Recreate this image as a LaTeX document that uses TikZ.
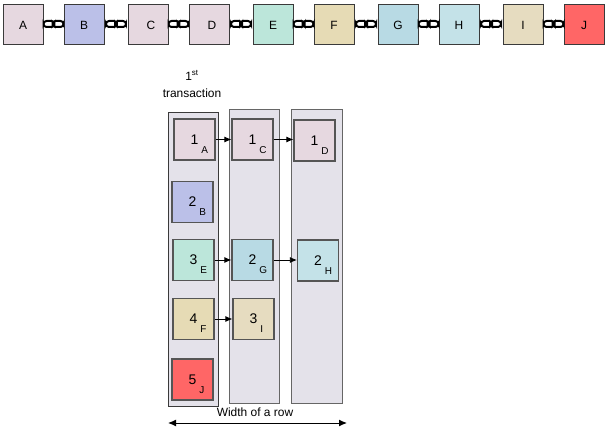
\documentclass[tikz,border=0pt]{standalone}
\usepackage{fontspec}
\setmainfont{Liberation Sans}
\usetikzlibrary{calc,positioning,arrows.meta}
\definecolor{chpink} {HTML}{E6D8E0}
\definecolor{chblue} {HTML}{BBC0E8}
\definecolor{chmint} {HTML}{BCE6DA}
\definecolor{chsand} {HTML}{E6DBB5}
\definecolor{chsky}  {HTML}{B8DAE4}
\definecolor{chice}  {HTML}{C4E2E8}
\definecolor{chwheat}{HTML}{E6DCC0}
\definecolor{chred}  {HTML}{FF6666}
\definecolor{chcol}  {HTML}{E4E2EA}
\definecolor{chedge} {HTML}{3A3A3A}
\definecolor{chcell} {HTML}{555555}
\definecolor{chgrey} {HTML}{666666}

\newcommand{\tx}[2]{#1\rlap{\hspace{3bp}\raisebox{-9bp}[0pt][0pt]{\fontsize{10}{12}\selectfont #2}}}

\begin{document}
\begin{tikzpicture}[x=1bp, y=-1bp, every node/.style={font=\fontsize{12}{14}\selectfont},
    blk/.style={draw=chedge, line width=1pt, minimum size=40bp, inner sep=0pt},
    cell/.style={draw=chcell, line width=1.2pt, minimum size=41bp, inner sep=0pt,
      font=\fontsize{14}{16}\selectfont},
    col/.style={fill=chcol, draw=chgrey, line width=1pt, minimum width=50bp,
      minimum height=293bp, inner sep=0pt},
    link/.style={draw=black, line width=2pt, rounded corners=3bp},
    flow/.style={-{Latex[length=7bp,width=6bp]}, line width=0.8pt}]
  \useasboundingbox (0,0) rectangle (609,437);
  \node[blk, fill=chpink] (tA) at (23,25) {A};
  \node[blk, fill=chblue] (tB) at (84,25) {B};
  \node[blk, fill=chpink] (tC) at (148,25) {\hspace*{6bp}C};
  \node[blk, fill=chpink] (tD) at (209,25) {\hspace*{6bp}D};
  \node[blk, fill=chmint] (tE) at (273,25) {E};
  \node[blk, fill=chsand] (tF) at (334,25) {F};
  \node[blk, fill=chsky] (tG) at (398,25) {G};
  \node[blk, fill=chice] (tH) at (459,25) {H};
  \node[blk, fill=chwheat] (tI) at (523,25) {I};
  \node[blk, fill=chred] (tJ) at (584,25) {J};
  \foreach \a/\b in {A/B,B/C,C/D,D/E,E/F,F/G,G/H,H/I,I/J} {
    \coordinate (m) at ($(t\a.east)!0.5!(t\b.west)$);
    \draw[link] ($(m)+(-10,-4)$) rectangle ++(11,6);
    \draw[link] ($(m)+(-1,-4)$) rectangle ++(11,6);
  }

  \node[align=center, font=\fontsize{12}{17}\selectfont] (first) at (192,84)
    {1\textsuperscript{st}\\transaction};
  \node[col, draw=chedge] (row1) at (193,259.5) {};
  \node[col] (row2) at (254,256.5) {};
  \node[col, minimum width=51bp] (row3) at (316.5,256.5) {};

  \node[cell, fill=chpink] (cA) at (194.5,139.5) {\tx{1}{A}};
  \node[cell, fill=chpink] (cC) at (252.5,139.5) {\tx{1}{C}};
  \node[cell, fill=chpink] (cD) at (314.5,140.5) {\tx{1}{D}};
  \node[cell, fill=chblue] (cB) at (192.5,202) {\tx{2}{B}};
  \node[cell, fill=chmint] (cE) at (193.5,260) {\tx{3}{E}};
  \node[cell, fill=chsky] (cG) at (252.5,260) {\tx{2}{G}};
  \node[cell, fill=chice] (cH) at (318,260.5) {\tx{2}{H}};
  \node[cell, fill=chsand] (cF) at (193.5,319) {\tx{4}{F}};
  \node[cell, fill=chwheat] (cI) at (253.5,319) {\tx{3}{I}};
  \node[cell, fill=chred] (cJ) at (192.5,379.5) {\tx{5}{J}};
  \draw[flow] (cA) -- (cC);
  \draw[flow] (cC.east) -- (cC.east -| cD.west);
  \draw[flow] (cE) -- (cG);
  \draw[flow] (cG.east) -- (cG.east -| cH.west);
  \draw[flow] (cF) -- (cI);

  \node (width) at (255,412) {Width of a row};
  \coordinate (wl) at (168,423);
  \coordinate (wr) at (347,423);
  \draw[{Latex[length=8bp,width=7bp]}-{Latex[length=8bp,width=7bp]}, line width=1pt]
    (wl) -- (wr);
\end{tikzpicture}
\end{document}
